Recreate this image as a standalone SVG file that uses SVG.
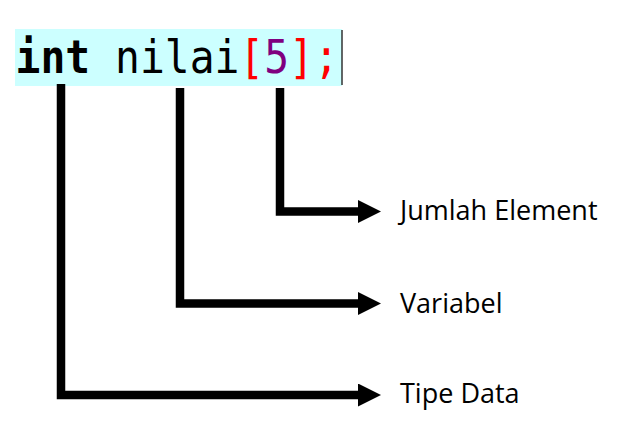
<svg xmlns="http://www.w3.org/2000/svg" width="622" height="441" viewBox="0 0 622 441">
<style>
.code{font-family:"DejaVu Sans Mono","Liberation Mono",monospace;font-size:41.3px}
.lbl{font-family:"Open Sans","Noto Sans",sans-serif;font-size:27px;fill:#000}
.conn{fill:none;stroke:#000;stroke-width:8.5;stroke-linejoin:miter;stroke-linecap:butt}
</style>
<defs>
<marker id="ah" viewBox="0 0 23 23" refX="0" refY="11.5" markerWidth="23" markerHeight="23" markerUnits="userSpaceOnUse" orient="auto">
<path d="M0,0 L23,11.5 L0,23 z" fill="#000"/>
</marker>
</defs>
<rect width="622" height="441" fill="#fff"/>
<g id="code">
<rect x="15" y="29" width="327" height="57" fill="#ccffff"/>
<text class="code" transform="translate(15.6,73) scale(1,1.1)"><tspan font-weight="bold" fill="#000">int</tspan><tspan fill="#000"> nilai</tspan><tspan fill="#ff0000">[</tspan><tspan fill="#800080">5</tspan><tspan fill="#ff0000">];</tspan></text>
<line x1="342" y1="30" x2="342" y2="85" stroke="#333" stroke-width="1.5"/>
</g>
<g id="connectors">
<polyline class="conn" points="61,84 61,395 358,395" marker-end="url(#ah)"/>
<polyline class="conn" points="180,88 180,303.5 358,303.5" marker-end="url(#ah)"/>
<polyline class="conn" points="280,88 280,211.5 358,211.5" marker-end="url(#ah)"/>
</g>
<g id="jumlah-element"><text class="lbl" x="400" y="219.5">Jumlah Element</text></g>
<g id="variabel"><text class="lbl" x="400" y="312.5">Variabel</text></g>
<g id="tipe-data"><text class="lbl" x="400" y="403">Tipe Data</text></g>
</svg>
